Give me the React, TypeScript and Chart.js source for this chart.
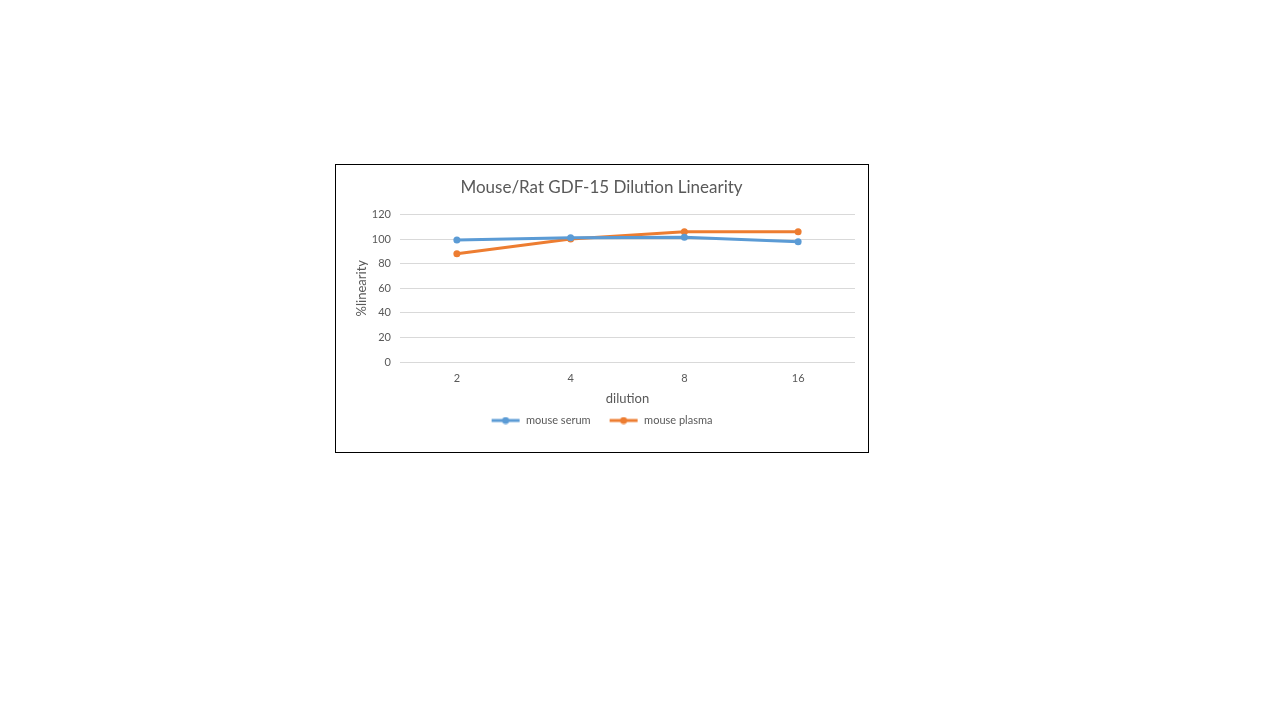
import React, { useEffect, useRef } from "react";
import { Chart, registerables } from "chart.js";

Chart.register(...registerables);

const categories = ["2", "4", "8", "16"];
const mouseSerum = [99.2, 101, 101.5, 97.7];
const mousePlasma = [88, 100, 105.8, 105.8];
const yTicks = [0, 20, 40, 60, 80, 100, 120];

const BLUE = "#5B9BD5";
const ORANGE = "#ED7D31";
const TEXT = "#595959";
const FONT = "Lato, 'Open Sans', sans-serif";

function legendIcon(color: string): HTMLCanvasElement {
  const c = document.createElement("canvas");
  c.width = 30;
  c.height = 8;
  const ctx = c.getContext("2d")!;
  ctx.strokeStyle = color;
  ctx.lineWidth = 3;
  ctx.beginPath();
  ctx.moveTo(1, 4);
  ctx.lineTo(29, 4);
  ctx.stroke();
  ctx.fillStyle = color;
  ctx.beginPath();
  ctx.arc(15, 4, 3.5, 0, Math.PI * 2);
  ctx.fill();
  return c;
}

export default function App() {
  const ref = useRef<HTMLCanvasElement>(null);

  useEffect(() => {
    if (!ref.current) return;
    const icons = [legendIcon(BLUE), legendIcon(ORANGE)];
    const chart = new Chart(ref.current, {
      type: "line",
      data: {
        labels: categories,
        datasets: [
          {
            label: "mouse serum",
            data: mouseSerum,
            borderColor: BLUE,
            backgroundColor: BLUE,
            borderWidth: 3,
            pointRadius: 3.5,
            pointBorderWidth: 0,
            pointBackgroundColor: BLUE,
          },
          {
            label: "mouse plasma",
            data: mousePlasma,
            borderColor: ORANGE,
            backgroundColor: ORANGE,
            borderWidth: 3,
            pointRadius: 3.5,
            pointBorderWidth: 0,
            pointBackgroundColor: ORANGE,
          },
        ],
      },
      options: {
        animation: false,
        responsive: false,
        devicePixelRatio: 1,
        layout: { padding: { left: 12, right: 13, top: 0, bottom: 16 } },
        plugins: {
          title: {
            display: true,
            text: "Mouse/Rat GDF-15 Dilution Linearity",
            color: TEXT,
            font: { family: FONT, size: 17, weight: "normal" },
            padding: { top: 12, bottom: 17 },
          },
          legend: {
            position: "bottom",
            labels: {
              color: TEXT,
              font: { family: FONT, size: 11 },
              usePointStyle: true,
              pointStyleWidth: 30,
              padding: 18,
              generateLabels: (ch: any) =>
                ch.data.datasets.map((ds: any, i: number) => ({
                  text: ds.label,
                  fillStyle: ds.borderColor,
                  strokeStyle: ds.borderColor,
                  lineWidth: 0,
                  pointStyle: icons[i],
                  hidden: false,
                  datasetIndex: i,
                  fontColor: TEXT,
                })),
            },
          },
          tooltip: { enabled: false },
        },
        scales: {
          x: {
            offset: true,
            grid: { display: false, drawTicks: false },
            border: { display: false },
            ticks: {
              color: TEXT,
              font: { family: FONT, size: 11 },
              padding: 10,
            },
            title: {
              display: true,
              text: "dilution",
              color: TEXT,
              font: { family: FONT, size: 13 },
              padding: { top: 0, bottom: -10 },
            },
            afterFit: (s: any) => {
              s.height = 35;
            },
          },
          y: {
            min: 0,
            max: 120,
            afterBuildTicks: (s: any) => {
              s.ticks = yTicks.map((v) => ({ value: v }));
            },
            grid: { color: "#D9D9D9", drawTicks: false, lineWidth: 1 },
            border: { display: false },
            ticks: {
              color: TEXT,
              font: { family: FONT, size: 11 },
              padding: 9,
            },
            title: {
              display: true,
              text: "%linearity",
              color: TEXT,
              font: { family: FONT, size: 13 },
              padding: { top: 6, bottom: 0 },
            },
            afterFit: (s: any) => {
              s.width = 52;
            },
          },
        },
      },
    });
    return () => chart.destroy();
  }, []);

  return (
    <div
      style={{
        position: "absolute",
        left: 335,
        top: 164,
        width: 534,
        height: 289,
        boxSizing: "border-box",
        border: "1px solid #000",
        background: "#fff",
      }}
    >
      <canvas ref={ref} width={532} height={287} style={{ display: "block" }} />
    </div>
  );
}
